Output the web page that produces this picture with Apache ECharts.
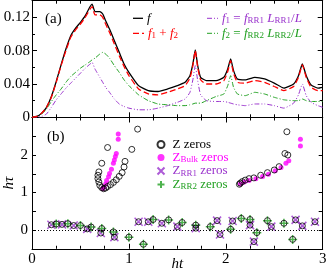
<!DOCTYPE html>
<html><head><meta charset="utf-8">
<script src="https://cdn.jsdelivr.net/npm/echarts@6/dist/echarts.min.js"></script>
<style>html,body{margin:0;padding:0;background:#fff}#c{width:327px;height:270px}</style>
</head><body><div id="c"></div>
<script>
// ---- panel (a) data ----
const htA   = [0,0.05,0.1,0.15,0.2,0.25,0.3,0.35,0.4,0.45,0.5,0.55,0.6,0.62,0.65,0.7,0.73,0.76,0.8,0.85,0.9,0.95,1.0,1.1,1.2,1.3,1.4,1.5,1.58,1.63,1.66,1.685,1.71,1.74,1.8,1.9,1.98,2.02,2.05,2.08,2.12,2.2,2.3,2.4,2.5,2.6,2.7,2.75,2.79,2.83,2.88,2.95,3.0];
const fTot  = [0,0.001,0.005,0.012,0.025,0.043,0.063,0.082,0.098,0.107,0.114,0.122,0.133,0.136,0.127,0.127,0.124,0.116,0.106,0.092,0.078,0.064,0.054,0.038,0.032,0.031,0.034,0.038,0.042,0.050,0.064,0.081,0.062,0.048,0.044,0.044,0.048,0.058,0.070,0.056,0.046,0.045,0.048,0.046,0.041,0.035,0.040,0.050,0.064,0.050,0.039,0.035,0.036];
const fSum  = [0,0.001,0.005,0.012,0.024,0.042,0.062,0.080,0.096,0.105,0.112,0.120,0.130,0.133,0.123,0.123,0.120,0.112,0.102,0.088,0.074,0.061,0.050,0.034,0.028,0.027,0.030,0.034,0.038,0.047,0.062,0.080,0.060,0.045,0.040,0.040,0.044,0.055,0.068,0.053,0.042,0.041,0.044,0.042,0.037,0.032,0.037,0.048,0.063,0.048,0.036,0.032,0.032];
const f1    = [0,0,0.001,0.004,0.012,0.021,0.028,0.035,0.041,0.047,0.053,0.059,0.064,0.066,0.058,0.048,0.042,0.036,0.030,0.022,0.016,0.013,0.011,0.009,0.009,0.011,0.014,0.018,0.022,0.030,0.045,0.062,0.044,0.027,0.020,0.019,0.019,0.018,0.017,0.016,0.015,0.014,0.016,0.016,0.014,0.011,0.017,0.027,0.040,0.026,0.018,0.014,0.012];
const f2    = [0,0.001,0.004,0.010,0.019,0.027,0.034,0.042,0.049,0.054,0.059,0.063,0.067,0.069,0.071,0.076,0.078,0.076,0.071,0.062,0.054,0.045,0.038,0.027,0.020,0.016,0.015,0.014,0.014,0.015,0.016,0.017,0.017,0.017,0.020,0.025,0.028,0.038,0.050,0.036,0.028,0.026,0.030,0.028,0.024,0.021,0.020,0.020,0.022,0.020,0.019,0.019,0.019];
// ---- panel (b) data ----
const zUpHt  = [0.78,0.72,0.69,0.68,0.68,0.69,0.70,0.72,0.74,0.76,0.78,0.81,0.84,0.87,0.90,0.93,0.95,0.96,1.03,1.09, 2.14,2.15,2.17,2.20,2.24,2.29,2.36,2.43,2.50,2.55,2.61,2.64,2.63];
const zUpTau = [2.20,1.78,1.55,1.46,1.37,1.28,1.19,1.13,1.10,1.12,1.16,1.21,1.27,1.34,1.43,1.53,1.68,1.83,2.15,2.69, 1.22,1.25,1.29,1.33,1.37,1.39,1.46,1.53,1.60,1.69,2.04,2.00,2.62];
const bulkHt  = [0.73,0.74,0.76,0.77,0.79,0.80,0.82,0.84,0.85,0.86,0.87,0.89,0.89, 2.15,2.19,2.24,2.31,2.38,2.44,2.51,2.57,2.62,2.65,2.77,2.77];
const bulkTau = [1.10,1.14,1.23,1.32,1.42,1.51,1.62,1.78,1.87,1.96,2.04,2.42,2.56, 1.23,1.28,1.32,1.37,1.43,1.49,1.58,1.67,1.78,1.85,2.24,2.42];
const rr1Ht  = [0.20,0.31,0.43,0.57,0.71,0.85,1.10,1.20,1.34,1.50,1.69,1.91,1.94,2.07,2.25,2.29,2.47,2.72,2.79,2.92];
const rr1Tau = [0.14,0.15,0.12,0.03,-0.08,-0.19,0.22,0.22,0.18,0.09,0.05,0.25,-0.12,0.24,0.13,-0.31,0.09,0.27,0.11,0.22];
const rr2Ht  = [0.25,0.37,0.50,0.61,0.72,0.84,1.00,1.15,1.25,1.41,1.55,1.69,1.84,2.05,2.16,2.25,2.32,2.43,2.60,2.69];
const rr2Tau = [0.16,0.17,0.12,0.08,0.04,-0.05,-0.19,-0.38,0.28,0.27,0.20,0.13,0.09,0.02,0.31,0.28,-0.07,0.25,0.18,-0.25];

const FONT = 'Liberation Serif';
const PURPLE = '#9932cc', GREEN = '#22a022', MAGENTA = '#ff00ff', RED = '#ff0000';
const zip = (a,b) => a.map((v,i)=>[v,b[i]]);

function mkX(grid, pos, labels){
  return {type:'value', gridIndex:grid, position:pos, min:0, max:3, interval:1,
    axisLine:{show:true, onZero:false, lineStyle:{color:'#000', width:1}},
    axisTick:{show:true, inside:true, length:5, lineStyle:{color:'#000'}},
    minorTick:{show:true, splitNumber:4, length:3, lineStyle:{color:'#000'}},
    splitLine:{show:false},
    axisLabel:{show:labels, color:'#000', fontFamily:FONT, fontSize:15, margin:3}};
}
const xAxes = [mkX(0,'bottom',false), mkX(0,'top',false), mkX(1,'bottom',true), mkX(1,'top',false)];
Object.assign(xAxes[2], {name:'ht', nameLocation:'middle', nameGap:8, nameMoveOverlap:false,
  nameTextStyle:{fontFamily:FONT, fontStyle:'italic', fontSize:15, color:'#000', verticalAlign:'top'}});

function mkYA(pos, labels){
  return {type:'value', gridIndex:0, position:pos, min:0, max:0.14, interval:0.04,
    axisLine:{show:true, onZero:false, lineStyle:{color:'#000'}},
    axisTick:{show:true, inside:true, length:5, lineStyle:{color:'#000'}},
    minorTick:{show:true, splitNumber:2, length:3, lineStyle:{color:'#000'}},
    splitLine:{show:false},
    axisLabel:{show:labels, showMaxLabel:false, color:'#000', fontFamily:FONT, fontSize:15, margin:2}};
}
function mkYB(pos, labels){
  return {type:'value', gridIndex:1, position:pos, min:-0.5, max:3, interval:0.5,
    axisLine:{show:true, onZero:false, lineStyle:{color:'#000'}},
    axisTick:{show:true, inside:true, length:4, lineStyle:{color:'#000'}},
    splitLine:{show:false},
    axisLabel:{show:labels, color:'#000', fontFamily:FONT, fontSize:15, margin:4,
      formatter:v => (Math.abs(v - Math.round(v))<1e-9 && v<2.5 && v>-0.1) ? String(Math.round(v)) : ''}};
}
const yAxes = [mkYA('left',true), mkYA('right',false), mkYB('left',true), mkYB('right',false)];
Object.assign(yAxes[2], {name:'hτ', nameLocation:'middle', nameGap:15, nameMoveOverlap:false,
  nameTextStyle:{fontFamily:FONT, fontStyle:'italic', fontSize:15, color:'#000'}});

const lineBase = {type:'line', xAxisIndex:0, yAxisIndex:0, symbol:'none', smooth:0.15, silent:true};
const DASH_P = [5,2,1,2,1,2], DASH_G = [5,2,1,2], DASH_R = [6,3];
const series = [
  Object.assign({}, lineBase, {name:'f1', data:zip(htA,f1), lineStyle:{color:PURPLE, width:1, type:DASH_P}}),
  Object.assign({}, lineBase, {name:'f2', data:zip(htA,f2), lineStyle:{color:GREEN, width:1, type:DASH_G}}),
  Object.assign({}, lineBase, {name:'f', data:zip(htA,fTot), lineStyle:{color:'#000', width:1.3}}),
  Object.assign({}, lineBase, {name:'f1+f2', data:zip(htA,fSum), lineStyle:{color:RED, width:1.3, type:DASH_R}}),
  {type:'scatter', name:'Zbulk', xAxisIndex:2, yAxisIndex:2, data:zip(bulkHt,bulkTau), symbol:'circle', symbolSize:5,
    itemStyle:{color:MAGENTA}, silent:true,
    markLine:{silent:true, symbol:'none', label:{show:false}, data:[{yAxis:0}], lineStyle:{type:[1,2], color:'#000', width:1}}},
  {type:'scatter', name:'Zrr1', xAxisIndex:2, yAxisIndex:2, data:zip(rr1Ht,rr1Tau), symbol:'path://M0,0L10,10M0,10L10,0', symbolSize:8, symbolKeepAspect:true,
    itemStyle:{color:'none', borderColor:PURPLE, borderWidth:1.5}, silent:true},
  {type:'scatter', name:'Zrr2', xAxisIndex:2, yAxisIndex:2, data:zip(rr2Ht,rr2Tau), symbol:'path://M5,0L5,10M0,5L10,5', symbolSize:9, symbolKeepAspect:true,
    itemStyle:{color:'none', borderColor:GREEN, borderWidth:1.5}, silent:true},
  {type:'scatter', name:'Z', xAxisIndex:2, yAxisIndex:2, data:zip(zUpHt,zUpTau).concat(zip(rr1Ht,rr1Tau), zip(rr2Ht,rr2Tau)), symbol:'circle', symbolSize:6,
    itemStyle:{color:'rgba(255,255,255,0)', borderColor:'#000', borderWidth:1}, silent:true}
];

function rs(color){
  return {
    i:{fontFamily:FONT, fontStyle:'italic', fontSize:13, fill:color, color:color, lineHeight:14},
    n:{fontFamily:FONT, fontSize:13, fill:color, color:color, lineHeight:14},
    s:{fontFamily:FONT, fontSize:9, fill:color, color:color, lineHeight:9, verticalAlign:'bottom'}
  };
}
function richFor(prefix, color){
  const r = rs(color), out = {};
  for (const k in r) out[prefix+k] = r[k];
  return out;
}
const rich = Object.assign({}, richFor('k','#000'), richFor('r',RED), richFor('p',PURPLE), richFor('g',GREEN), richFor('m',MAGENTA));
const legendText = {
  'f':'{ki|f}',
  'f1+f2':'{ri|f}{rs|1}{rn| + }{ri|f}{rs|2}',
  'f1':'{pi|f}{ps|1}{pn| = }{pi|f}{ps|RR1}{pn| }{pi|L}{ps|RR1}{pn|/}{pi|L}',
  'f2':'{gi|f}{gs|2}{gn| = }{gi|f}{gs|RR2}{gn| }{gi|L}{gs|RR2}{gn|/}{gi|L}',
  'Z':'{kn|Z zeros}',
  'Zbulk':'{mn|Z}{ms|Bulk}{mn| zeros}',
  'Zrr1':'{pn|Z}{ps|RR1}{pn| zeros}',
  'Zrr2':'{gn|Z}{gs|RR2}{gn| zeros}'
};

// legend keys for panel (a), drawn as graphic samples
function key(x1, x2, y, color, width, dash, name){
  return [
    {type:'line', silent:true, shape:{x1:x1, y1:y, x2:x2, y2:y}, style:{stroke:color, lineWidth:width, lineDash:dash}},
    {type:'text', silent:true, x:x2+4, y:y, style:{text:legendText[name], rich:rich, verticalAlign:'middle', align:'left'}}
  ];
}

const option = {
  animation:false,
  backgroundColor:'#fff',
  grid:[{left:32, right:4.3, top:0.7, bottom:152.7, outerBoundsMode:'none', containLabel:false},
        {left:32, right:4.3, top:117.5, bottom:21.25, outerBoundsMode:'none', containLabel:false}],
  xAxis:xAxes, yAxis:yAxes, series:series,
  legend:[
    {orient:'vertical', selectedMode:false, formatter:n=>legendText[n],
      left:150, top:133, itemWidth:7, itemHeight:12, itemGap:0, data:['Z','Zbulk','Zrr1','Zrr2'],
      textStyle:{rich:rich, fontFamily:FONT, fontSize:13, padding:[0,0,0,3]}}
  ],
  graphic:[
    {type:'text', left:45, top:12, style:{text:'(a)', font:'15px "Liberation Serif"', fill:'#000'}},
    {type:'text', left:47, top:130, style:{text:'(b)', font:'15px "Liberation Serif"', fill:'#000'}}
  ].concat(
    key(133, 143, 18.3, '#000', 1.3, null, 'f'),
    key(133, 144, 33.3, RED, 1.3, DASH_R, 'f1+f2'),
    key(207, 218, 18.3, PURPLE, 1, DASH_P, 'f1'),
    key(207, 218, 33.3, GREEN, 1, DASH_G, 'f2')
  )
};
const chart = echarts.init(document.getElementById('c'), null, {renderer:'canvas'});
chart.setOption(option);
</script></body></html>
